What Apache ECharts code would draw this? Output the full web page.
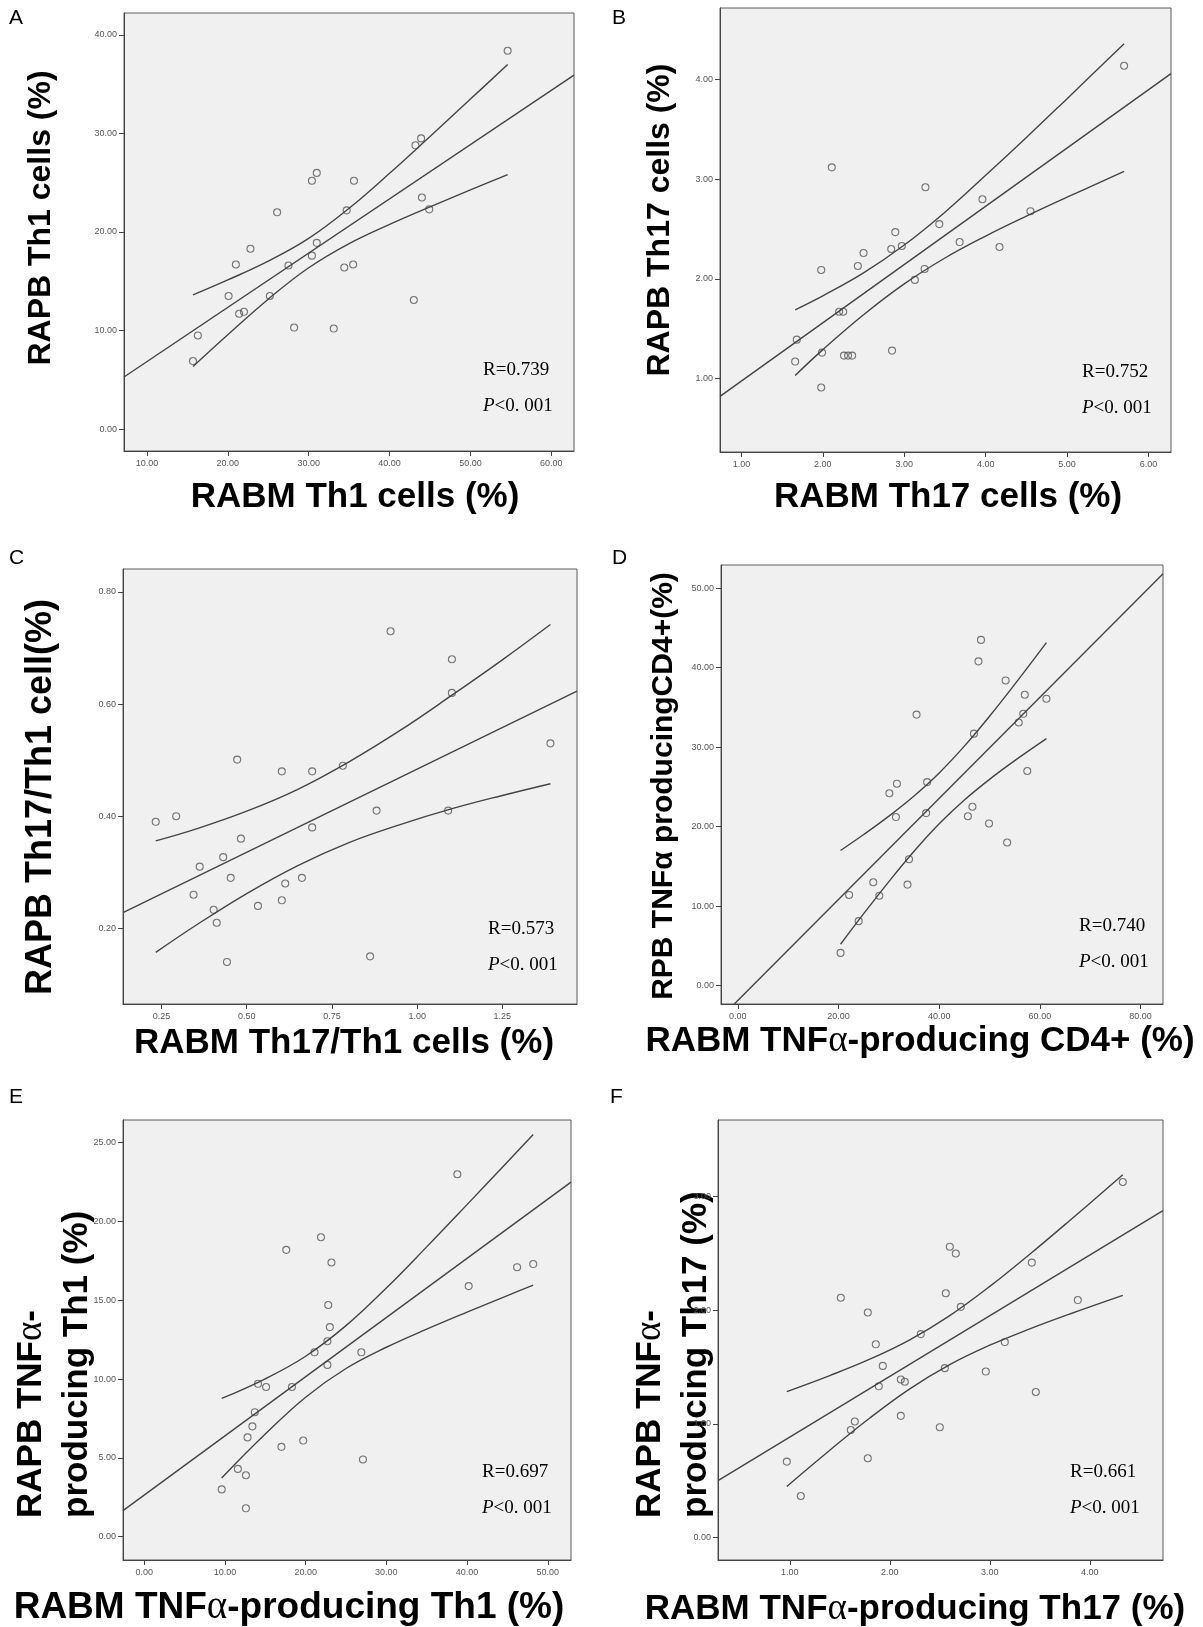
<!DOCTYPE html>
<html>
<head>
<meta charset="utf-8">
<script src="https://cdn.jsdelivr.net/npm/echarts@6/dist/echarts.min.js"></script>
<style>
  html, body { margin: 0; padding: 0; background: #fff; }
  #chart { width: 1203px; height: 1627px; }
</style>
</head>
<body>
<div id="chart"></div>
<script>
// tick values of each panel
const ticksXA = [10, 20, 30, 40, 50, 60];
const ticksYA = [0, 10, 20, 30, 40];
const ticksXB = [1, 2, 3, 4, 5, 6];
const ticksYB = [1, 2, 3, 4];
const ticksXC = [0.25, 0.5, 0.75, 1, 1.25];
const ticksYC = [0.2, 0.4, 0.6, 0.8];
const ticksXD = [0, 20, 40, 60, 80];
const ticksYD = [0, 10, 20, 30, 40, 50];
const ticksXE = [0, 10, 20, 30, 40, 50];
const ticksYE = [0, 5, 10, 15, 20, 25];
const ticksXF = [1, 2, 3, 4];
const ticksYF = [0, 1, 2, 3];

// A: Th1 cells, RABM (x) vs RAPB (y)
const pointsA = [[54.6,38.4],[43.2,28.8],[43.9,29.5],[31.0,26.0],[30.4,25.2],[35.6,25.2],[26.1,22.0],[34.7,22.2],[44.0,23.5],[44.9,22.3],[22.8,18.3],[31.0,18.9],[30.4,17.6],[21.0,16.7],[27.5,16.6],[34.4,16.4],[35.5,16.7],[20.1,13.5],[25.2,13.5],[21.4,11.7],[22.0,11.9],[43.0,13.1],[28.2,10.3],[33.1,10.2],[16.3,9.5],[15.7,6.9]];
const fitA = [[7.17,5.28],[62.8,35.93]];
const ciXA = [15.7, 20, 25, 30, 35, 40, 45, 50, 54.6];
const ciUpA = [13.61, 15.13, 17.04, 19.35, 22.41, 25.96, 29.70, 33.49, 37.0];
const ciLoA = [6.35, 9.57, 13.18, 16.37, 18.83, 20.78, 22.56, 24.27, 25.82];

// B: Th17 cells
const pointsB = [[5.70,4.14],[2.11,3.12],[3.26,2.92],[3.96,2.80],[4.55,2.68],[3.43,2.55],[2.89,2.47],[3.68,2.37],[4.17,2.32],[2.84,2.30],[2.97,2.33],[2.50,2.26],[2.43,2.13],[1.98,2.09],[3.25,2.10],[3.13,1.99],[2.20,1.67],[2.25,1.67],[1.68,1.39],[1.99,1.26],[1.66,1.17],[2.26,1.23],[2.31,1.23],[2.36,1.23],[2.85,1.28],[1.98,0.91]];
const fitB = [[0.737,0.821],[6.276,4.061]];
const ciXB = [1.66, 2.0, 2.5, 3.0, 3.5, 4.0, 4.5, 5.0, 5.7];
const ciUpB = [1.69, 1.83, 2.06, 2.34, 2.67, 3.04, 3.42, 3.81, 4.36];
const ciLoB = [1.03, 1.29, 1.64, 1.95, 2.21, 2.43, 2.63, 2.82, 3.08];

// C: Th17/Th1
const pointsC = [[0.922,0.730],[1.102,0.680],[1.102,0.620],[1.391,0.530],[0.472,0.501],[0.603,0.480],[0.692,0.480],[0.782,0.490],[0.881,0.410],[1.091,0.410],[0.233,0.390],[0.293,0.400],[0.692,0.380],[0.483,0.360],[0.431,0.327],[0.362,0.310],[0.453,0.290],[0.662,0.290],[0.613,0.280],[0.344,0.260],[0.603,0.250],[0.533,0.240],[0.403,0.233],[0.412,0.210],[0.442,0.140],[0.862,0.150]];
const fitC = [[0.137,0.228],[1.469,0.623]];
const ciXC = [0.233, 0.35, 0.5, 0.65, 0.8, 0.95, 1.1, 1.25, 1.391];
const ciUpC = [0.356, 0.377, 0.409, 0.448, 0.497, 0.553, 0.615, 0.679, 0.742];
const ciLoC = [0.157, 0.205, 0.262, 0.312, 0.353, 0.385, 0.413, 0.437, 0.458];

// D: TNFa-producing CD4+
const pointsD = [[48.3,43.5],[47.8,40.8],[53.2,38.4],[57.0,36.6],[61.3,36.1],[56.7,34.2],[55.8,33.1],[35.5,34.1],[46.9,31.7],[57.5,27.0],[31.6,25.4],[30.1,24.2],[37.6,25.6],[31.4,21.2],[37.4,21.7],[46.6,22.5],[45.7,21.3],[49.9,20.4],[53.5,18.0],[34.0,15.9],[26.9,13.0],[33.7,12.7],[22.1,11.4],[28.1,11.3],[24.0,8.1],[20.4,4.1]];
const fitD = [[-0.7,-2.33],[84.46,51.84]];
const ciXD = [20.4, 25, 30, 35, 40, 45, 50, 55, 61.3];
const ciUpD = [16.99, 19.0, 21.32, 23.86, 26.76, 30.13, 33.89, 37.9, 43.15];
const ciLoD = [5.19, 9.04, 13.08, 16.9, 20.36, 23.35, 25.95, 28.3, 31.07];

// E: TNFa-producing Th1
const pointsE = [[38.8,23.0],[21.9,19.0],[17.6,18.2],[23.2,17.4],[46.2,17.1],[48.2,17.3],[40.2,15.9],[22.8,14.7],[23.0,13.3],[22.7,12.4],[21.1,11.7],[26.9,11.7],[22.7,10.9],[14.1,9.7],[15.1,9.5],[18.3,9.5],[13.7,7.9],[13.4,7.0],[12.8,6.3],[19.7,6.1],[17.0,5.7],[27.1,4.9],[11.6,4.3],[12.6,3.9],[9.6,3.0],[12.6,1.8]];
const fitE = [[-2.63,1.65],[52.88,22.5]];
const ciXE = [9.6, 15, 20, 25, 30, 35, 40, 45, 48.2];
const ciUpE = [8.77, 10.02, 11.45, 13.39, 15.78, 18.39, 21.07, 23.78, 25.52];
const ciLoE = [3.73, 6.51, 8.85, 10.67, 12.02, 13.17, 14.25, 15.3, 15.96];

// F: TNFa-producing Th17
const pointsF = [[4.33,3.13],[2.60,2.56],[2.66,2.50],[3.42,2.42],[1.51,2.11],[2.56,2.15],[3.88,2.09],[1.78,1.98],[2.71,2.03],[2.31,1.79],[1.86,1.70],[3.15,1.72],[1.93,1.51],[2.55,1.49],[2.96,1.46],[2.11,1.39],[2.15,1.37],[1.89,1.33],[3.46,1.28],[2.11,1.07],[2.50,0.97],[1.65,1.02],[1.61,0.945],[1.78,0.696],[0.97,0.667],[1.11,0.364]];
const fitF = [[0.282,0.499],[4.732,2.877]];
const ciXF = [0.97, 1.4, 1.8, 2.2, 2.6, 3.0, 3.4, 3.8, 4.33];
const ciUpF = [1.284, 1.425, 1.569, 1.740, 1.953, 2.21, 2.494, 2.791, 3.193];
const ciLoF = [0.448, 0.767, 1.051, 1.308, 1.521, 1.692, 1.836, 1.967, 2.131];

const rTexts = ['R=0.739', 'R=0.752', 'R=0.573', 'R=0.740', 'R=0.697', 'R=0.661'];

const SANS = "'Liberation Sans', Arial, sans-serif";
const SERIF = "'Liberation Serif', 'Times New Roman', serif";

const panels = [
  { grid: { left: 124, top: 13, width: 450, height: 438 }, x: [7.17, 62.8], y: [-2.23, 42.23], tx: ticksXA, ty: ticksYA, pts: pointsA, fit: fitA, cx: ciXA, up: ciUpA, lo: ciLoA, note: [483, 370] },
  { grid: { left: 720, top: 8, width: 451, height: 444 }, x: [0.737, 6.276], y: [0.262, 4.72], tx: ticksXB, ty: ticksYB, pts: pointsB, fit: fitB, cx: ciXB, up: ciUpB, lo: ciLoB, note: [1082, 372] },
  { grid: { left: 123, top: 569, width: 454, height: 435 }, x: [0.137, 1.469], y: [0.065, 0.841], tx: ticksXC, ty: ticksYC, pts: pointsC, fit: fitC, cx: ciXC, up: ciUpC, lo: ciLoC, note: [488, 929] },
  { grid: { left: 721, top: 565, width: 442, height: 439 }, x: [-3.35, 84.46], y: [-2.33, 52.93], tx: ticksXD, ty: ticksYD, pts: pointsD, fit: fitD, cx: ciXD, up: ciUpD, lo: ciLoD, note: [1079, 926] },
  { grid: { left: 123, top: 1120, width: 448, height: 440 }, x: [-2.63, 52.88], y: [-1.48, 26.44], tx: ticksXE, ty: ticksYE, pts: pointsE, fit: fitE, cx: ciXE, up: ciUpE, lo: ciLoE, note: [482, 1472] },
  { grid: { left: 718, top: 1120, width: 445, height: 440 }, x: [0.282, 4.732], y: [-0.2, 3.676], tx: ticksXF, ty: ticksYF, pts: pointsF, fit: fitF, cx: ciXF, up: ciUpF, lo: ciLoF, note: [1070, 1472] }
];

function makeAxis(dim, i, range, ticks) {
  return {
    type: 'value', gridIndex: i, min: range[0], max: range[1],
    splitLine: { show: false },
    axisLine: { show: true, onZero: false, lineStyle: { color: '#444', width: 1 } },
    axisTick: { show: true, length: 5, customValues: ticks, lineStyle: { color: '#444', width: 1 } },
    axisLabel: {
      show: true, customValues: ticks, formatter: v => v.toFixed(2),
      fontSize: 9, color: '#555', margin: dim === 'x' ? 8 : 7,
      fontFamily: "'Liberation Sans Narrow', 'Liberation Sans', sans-serif"
    }
  };
}

function lineSeries(i, data, smooth) {
  return {
    type: 'line', xAxisIndex: i, yAxisIndex: i, data: data,
    showSymbol: false, smooth: smooth ? 0.4 : false, silent: true, clip: true,
    lineStyle: { color: '#444', width: 1.4 }
  };
}

function text(x, y, str, style, extra) {
  return Object.assign({
    type: 'text', x: x, y: y, silent: true,
    style: Object.assign({ text: str, fill: '#000', fontFamily: SANS, fontSize: 20 }, style)
  }, extra || {});
}

const bold = (size) => ({ fontFamily: SANS, fontWeight: 'bold', fontSize: size, fill: '#000' });
const greek = (size) => ({ fontFamily: SERIF, fontWeight: 'normal', fontSize: size + 2, fill: '#000' });

const option = { animation: false, backgroundColor: '#fff', grid: [], xAxis: [], yAxis: [], series: [], graphic: [] };

panels.forEach((p, i) => {
  option.grid.push(Object.assign({
    show: true, backgroundColor: '#f0f0f0', borderColor: '#5a5a5a', borderWidth: 1,
    containLabel: false, outerBoundsMode: 'none'
  }, p.grid));
  option.xAxis.push(makeAxis('x', i, p.x, p.tx));
  option.yAxis.push(makeAxis('y', i, p.y, p.ty));
  option.series.push({
    type: 'scatter', xAxisIndex: i, yAxisIndex: i, data: p.pts, silent: true,
    symbol: 'circle', symbolSize: 7,
    itemStyle: { color: 'rgba(0,0,0,0)', borderColor: '#555', borderWidth: 1.1 }
  });
  option.series.push(lineSeries(i, p.fit, false));
  option.series.push(lineSeries(i, p.cx.map((x, k) => [x, p.up[k]]), true));
  option.series.push(lineSeries(i, p.cx.map((x, k) => [x, p.lo[k]]), true));

  // R and P annotations
  option.graphic.push(text(p.note[0], p.note[1], rTexts[i], {
    fontFamily: SERIF, fontSize: 19, align: 'left', verticalAlign: 'middle', textAlign: 'left', textVerticalAlign: 'middle'
  }));
  option.graphic.push(text(p.note[0], p.note[1] + 36, '{i|P}{n|<0. 001}', {
    fontFamily: SERIF, fontSize: 19, align: 'left', verticalAlign: 'middle', textAlign: 'left', textVerticalAlign: 'middle',
    rich: {
      i: { fontFamily: SERIF, fontSize: 19, fontStyle: 'italic', fill: '#000' },
      n: { fontFamily: SERIF, fontSize: 19, fill: '#000' }
    }
  }));
});

// panel letters
const letters = [['A', 9, 18], ['B', 612, 18], ['C', 9, 558], ['D', 612, 558], ['E', 9, 1097], ['F', 610, 1097]];
letters.forEach(l => option.graphic.push(text(l[1], l[2], l[0], {
  fontSize: 21, align: 'left', verticalAlign: 'middle', textAlign: 'left', textVerticalAlign: 'middle'
})));

// x axis titles
const xTitles = [
  [355, 497, '{b|RABM Th1 cells (%)}', 35],
  [948, 497, '{b|RABM Th17 cells (%)}', 35],
  [344, 1043, '{b|RABM Th17/Th1 cells (%)}', 35],
  [920, 1041, '{b|RABM TNF}{g|α}{b|-producing CD4+ (%)}', 35],
  [289, 1608, '{b|RABM TNF}{g|α}{b|-producing Th1 (%)}', 37],
  [915, 1609, '{b|RABM TNF}{g|α}{b|-producing Th17 (%)}', 35]
];
xTitles.forEach(t => option.graphic.push(text(t[0], t[1], t[2], {
  align: 'center', verticalAlign: 'middle', textAlign: 'center', textVerticalAlign: 'middle',
  rich: { b: bold(t[3]), g: greek(t[3]) }
})));

// y axis titles (rotated)
const yTitles = [
  [41, 218, '{b|RAPB Th1 cells (%)}', 32],
  [660, 220, '{b|RAPB Th17 cells (%)}', 32],
  [41, 797, '{b|RAPB Th17/Th1 cell(%)}', 36],
  [664, 786, '{b|RPB TNFα producingCD4+(%)}', 30]
];
yTitles.forEach(t => option.graphic.push(text(t[0], t[1], t[2], {
  align: 'center', verticalAlign: 'middle', textAlign: 'center', textVerticalAlign: 'middle',
  rich: { b: bold(t[3]) }
}, { rotation: Math.PI / 2 })));

const yTitles2 = [
  [8, 1518, '{b|RAPB TNF}{g|α}{b|-}\n{b|producing Th1 (%)}'],
  [627, 1518, '{b|RAPB TNF}{g|α}{b|-}\n{b|producing Th17 (%)}']
];
yTitles2.forEach(t => option.graphic.push(text(t[0], t[1], t[2], {
  align: 'left', verticalAlign: 'top', textAlign: 'left', textVerticalAlign: 'top',
  rich: {
    b: Object.assign(bold(35), { lineHeight: 46 }),
    g: Object.assign(greek(35), { lineHeight: 46 })
  }
}, { rotation: Math.PI / 2 })));

const chart = echarts.init(document.getElementById('chart'), null, { renderer: 'canvas' });
chart.setOption(option);
</script>
</body>
</html>
